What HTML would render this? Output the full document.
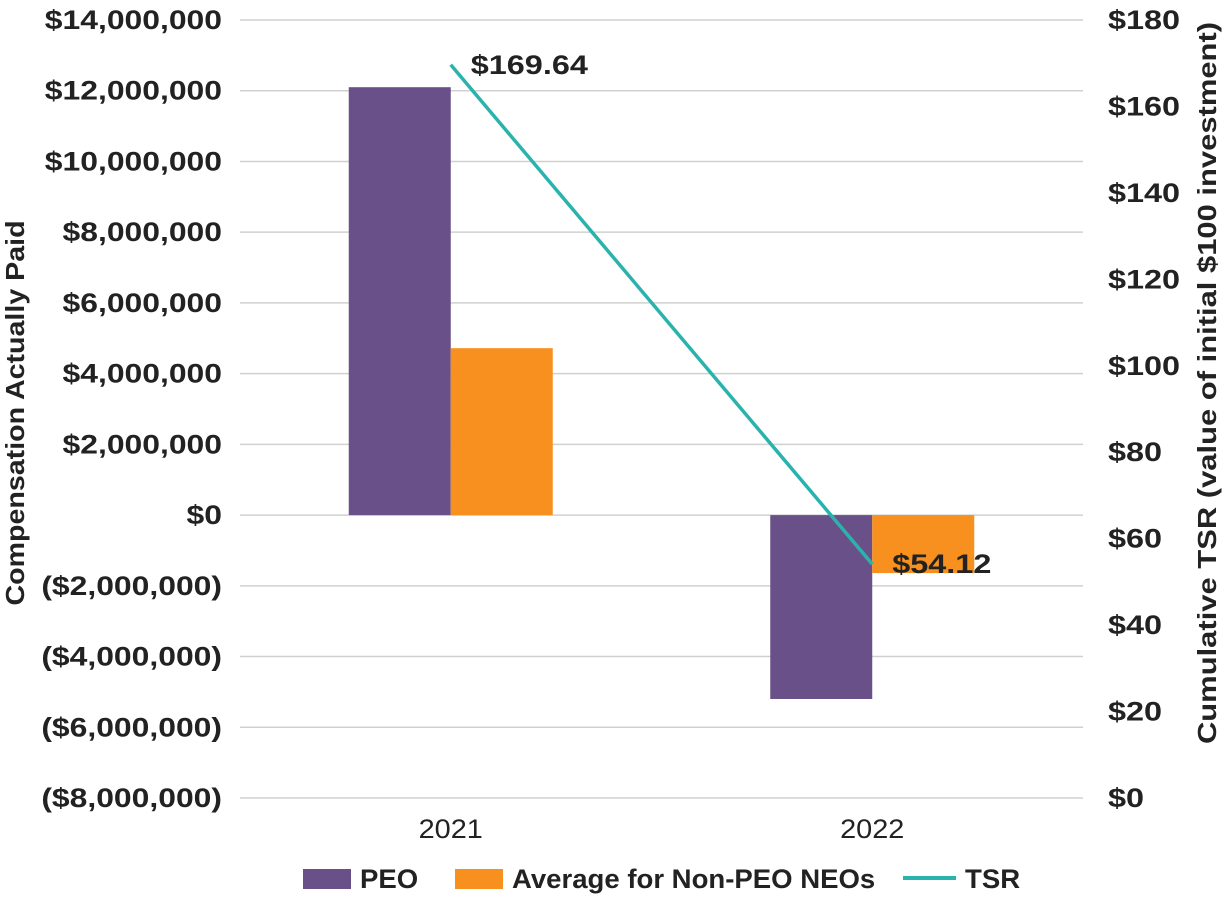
<!DOCTYPE html>
<html><head><meta charset="utf-8"><style>
body{margin:0;background:#fff;font-family:"Liberation Sans",Arial,sans-serif}
svg text{font-family:"Liberation Sans",Arial,sans-serif}
</style></head><body>
<svg id="chart" width="1226" height="899">
<g id="grid"></g><g id="bars"></g><g id="line"></g><g id="labels"></g><g id="legend"></g>
<text class="st" data-f="1.1" transform="translate(24,413) rotate(-90)" text-anchor="middle" font-size="26" font-weight="bold" fill="#222">Compensation Actually Paid</text>
<text class="st" data-f="1.19" transform="translate(1216,383) rotate(-90)" text-anchor="middle" font-size="26" font-weight="bold" fill="#222">Cumulative TSR (value of initial $100 investment)</text>
</svg>
<script>
const categories=["2021","2022"];
const peo=[12100000,-5200000];
const neo=[4720000,-1640000];
const tsr=[169.64,54.12];
const tsrLabels=["$169.64","$54.12"];
const leftTicks=[14000000,12000000,10000000,8000000,6000000,4000000,2000000,0,-2000000,-4000000,-6000000,-8000000];
const rightTicks=[180,160,140,120,100,80,60,40,20,0];
const NS="http://www.w3.org/2000/svg";
const X0=240,X1=1083,Y0=20,Y1=798;
const yL=v=>Y0+(14000000-v)/22000000*(Y1-Y0);
const yR=v=>Y0+(180-v)/180*(Y1-Y0);
const band=(X1-X0)/categories.length;
const xC=i=>X0+band*(i+0.5);
const BW=102;
function mk(tag,attrs,parent,text){const e=document.createElementNS(NS,tag);for(const k in attrs)e.setAttribute(k,attrs[k]);if(text!=null)e.textContent=text;document.getElementById(parent).appendChild(e);return e;}
function fmt(v){const s="$"+Math.abs(v).toLocaleString("en-US");return v<0?"("+s+")":s;}
leftTicks.forEach(v=>{
 const l=mk("line",{x1:X0,x2:X1,y1:yL(v),y2:yL(v),stroke:"#d0d0d0","stroke-width":1.5},"grid");
 
 
 const t=mk("text",{class:"st","data-f":1.18,x:222,y:yL(v)+9,"text-anchor":"end","font-size":27,"font-weight":"bold",fill:"#222"},"labels",fmt(v));
 
 
});
rightTicks.forEach(v=>{
 const t=mk("text",{class:"st","data-f":1.2,x:1108,y:yR(v)+9,"font-size":27,"font-weight":"bold",fill:"#222"},"labels","$"+v);
 
 
});
categories.forEach((c,i)=>{
 const t=mk("text",{class:"st","data-f":1.07,x:xC(i),y:838,"text-anchor":"middle","font-size":27,fill:"#222"},"labels",c);
 
 
 const p=peo[i],n=neo[i];
 const b1=mk("rect",{x:xC(i)-BW,y:Math.min(yL(p),yL(0)),width:BW,height:Math.abs(yL(p)-yL(0)),fill:"#6a5088"},"bars");
 
 
 const b2=mk("rect",{x:xC(i),y:Math.min(yL(n),yL(0)),width:BW,height:Math.abs(yL(n)-yL(0)),fill:"#f7901e"},"bars");
 
 
});
const ln=mk("polyline",{points:tsr.map((v,i)=>xC(i)+","+yR(v)).join(" "),fill:"none",stroke:"#2ab3ad","stroke-width":3.5},"line");


tsr.forEach((v,i)=>{
 const t=mk("text",{class:"st","data-f":1.2,x:xC(i)+20,y:yR(v)+9,"font-size":27,"font-weight":"bold",fill:"#222"},"labels",tsrLabels[i]);
 
 
});
const leg=[["PEO","#6a5088","rect",303,360],["Average for Non-PEO NEOs","#f7901e","rect",455,512],["TSR","#2ab3ad","line",903,965]];
leg.forEach(([name,col,kind,x,tx])=>{
 const g=mk("g",{},"legend");
 
 
 const s=kind=="rect"?document.createElementNS(NS,"rect"):document.createElementNS(NS,"line");
 if(kind=="rect"){s.setAttribute("x",x);s.setAttribute("y",869);s.setAttribute("width",48);s.setAttribute("height",20);s.setAttribute("fill",col);}
 else{s.setAttribute("x1",x);s.setAttribute("x2",x+53);s.setAttribute("y1",878);s.setAttribute("y2",878);s.setAttribute("stroke",col);s.setAttribute("stroke-width",4);}
 g.appendChild(s);
 const t=document.createElementNS(NS,"text");t.setAttribute("x",tx);t.setAttribute("y",888);t.setAttribute("font-size",27);t.setAttribute("font-weight","bold");t.setAttribute("fill","#222");t.setAttribute("class","st");t.setAttribute("data-f","1.02");t.textContent=name;g.appendChild(t);
});
document.querySelectorAll("text.st").forEach(t=>{
 const w=t.getComputedTextLength();
 const f=parseFloat(t.getAttribute("data-f"));
 if(w>0){t.setAttribute("textLength",w*f);t.setAttribute("lengthAdjust","spacingAndGlyphs");}
});
</script>
</body></html>
